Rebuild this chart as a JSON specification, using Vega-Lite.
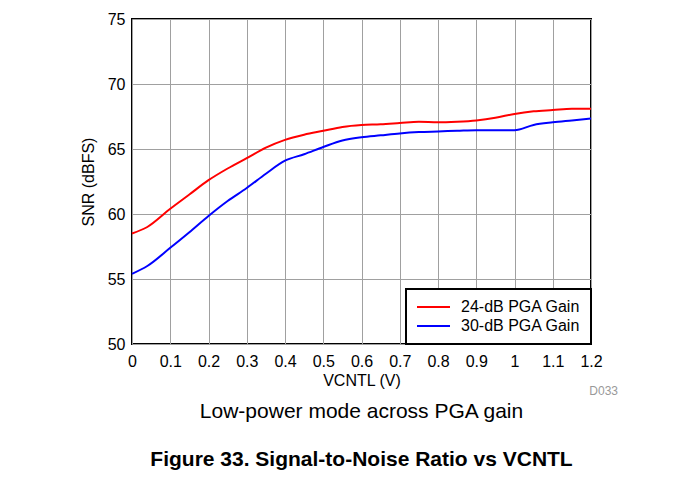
{
  "$schema": "https://vega.github.io/schema/vega-lite/v6.json",
  "width": 459,
  "height": 325,
  "autosize": "none",
  "padding": {"left": 132, "top": 19, "right": 90, "bottom": 134},
  "background": "white",
  "config": {
    "font": "Liberation Sans",
    "view": {"stroke": "#000", "strokeWidth": 2},
    "axis": {
      "labelFont": "Liberation Sans", "labelFontSize": 16, "labelColor": "#000",
      "titleFont": "Liberation Sans", "titleFontSize": 16, "titleColor": "#000", "titleFontWeight": "normal",
      "grid": true, "gridColor": "#a0a0a0", "gridWidth": 1,
      "domain": false, "ticks": false, "labelOverlap": false
    }
  },
  "title": {
    "text": "Low-power mode across PGA gain",
    "subtitle": "Figure 33. Signal-to-Noise Ratio vs VCNTL",
    "orient": "bottom", "anchor": "middle", "frame": "group",
    "font": "Liberation Sans", "fontSize": 21, "fontWeight": "normal", "color": "#000",
    "subtitleFont": "Liberation Sans", "subtitleFontSize": 21, "subtitleFontWeight": "bold", "subtitleColor": "#000",
    "subtitlePadding": 27, "offset": 4
  },
  "datasets": {
    "curves": [
      {"v": 0, "snr": 58.5, "series": "24-dB PGA Gain"},
      {"v": 0.04, "snr": 59.0, "series": "24-dB PGA Gain"},
      {"v": 0.1, "snr": 60.4, "series": "24-dB PGA Gain"},
      {"v": 0.15, "snr": 61.5, "series": "24-dB PGA Gain"},
      {"v": 0.2, "snr": 62.6, "series": "24-dB PGA Gain"},
      {"v": 0.25, "snr": 63.5, "series": "24-dB PGA Gain"},
      {"v": 0.3, "snr": 64.3, "series": "24-dB PGA Gain"},
      {"v": 0.35, "snr": 65.1, "series": "24-dB PGA Gain"},
      {"v": 0.4, "snr": 65.7, "series": "24-dB PGA Gain"},
      {"v": 0.45, "snr": 66.1, "series": "24-dB PGA Gain"},
      {"v": 0.5, "snr": 66.4, "series": "24-dB PGA Gain"},
      {"v": 0.55, "snr": 66.7, "series": "24-dB PGA Gain"},
      {"v": 0.6, "snr": 66.85, "series": "24-dB PGA Gain"},
      {"v": 0.65, "snr": 66.9, "series": "24-dB PGA Gain"},
      {"v": 0.7, "snr": 67.0, "series": "24-dB PGA Gain"},
      {"v": 0.75, "snr": 67.1, "series": "24-dB PGA Gain"},
      {"v": 0.8, "snr": 67.05, "series": "24-dB PGA Gain"},
      {"v": 0.85, "snr": 67.1, "series": "24-dB PGA Gain"},
      {"v": 0.9, "snr": 67.2, "series": "24-dB PGA Gain"},
      {"v": 0.95, "snr": 67.4, "series": "24-dB PGA Gain"},
      {"v": 1.0, "snr": 67.7, "series": "24-dB PGA Gain"},
      {"v": 1.05, "snr": 67.9, "series": "24-dB PGA Gain"},
      {"v": 1.1, "snr": 68.0, "series": "24-dB PGA Gain"},
      {"v": 1.15, "snr": 68.1, "series": "24-dB PGA Gain"},
      {"v": 1.2, "snr": 68.1, "series": "24-dB PGA Gain"},
      {"v": 0, "snr": 55.4, "series": "30-dB PGA Gain"},
      {"v": 0.04, "snr": 56.0, "series": "30-dB PGA Gain"},
      {"v": 0.1, "snr": 57.4, "series": "30-dB PGA Gain"},
      {"v": 0.15, "snr": 58.6, "series": "30-dB PGA Gain"},
      {"v": 0.2, "snr": 59.85, "series": "30-dB PGA Gain"},
      {"v": 0.25, "snr": 61.0, "series": "30-dB PGA Gain"},
      {"v": 0.3, "snr": 62.0, "series": "30-dB PGA Gain"},
      {"v": 0.35, "snr": 63.1, "series": "30-dB PGA Gain"},
      {"v": 0.4, "snr": 64.1, "series": "30-dB PGA Gain"},
      {"v": 0.45, "snr": 64.6, "series": "30-dB PGA Gain"},
      {"v": 0.5, "snr": 65.15, "series": "30-dB PGA Gain"},
      {"v": 0.55, "snr": 65.65, "series": "30-dB PGA Gain"},
      {"v": 0.6, "snr": 65.9, "series": "30-dB PGA Gain"},
      {"v": 0.65, "snr": 66.05, "series": "30-dB PGA Gain"},
      {"v": 0.7, "snr": 66.2, "series": "30-dB PGA Gain"},
      {"v": 0.75, "snr": 66.3, "series": "30-dB PGA Gain"},
      {"v": 0.8, "snr": 66.35, "series": "30-dB PGA Gain"},
      {"v": 0.85, "snr": 66.4, "series": "30-dB PGA Gain"},
      {"v": 0.9, "snr": 66.45, "series": "30-dB PGA Gain"},
      {"v": 0.95, "snr": 66.45, "series": "30-dB PGA Gain"},
      {"v": 1.0, "snr": 66.45, "series": "30-dB PGA Gain"},
      {"v": 1.05, "snr": 66.85, "series": "30-dB PGA Gain"},
      {"v": 1.1, "snr": 67.05, "series": "30-dB PGA Gain"},
      {"v": 1.15, "snr": 67.2, "series": "30-dB PGA Gain"},
      {"v": 1.2, "snr": 67.35, "series": "30-dB PGA Gain"}
    ],
    "note": [
      {"v": 1.2, "snr": 50, "label": "D033"}
    ]
  },
  "layer": [
    {
      "data": {"name": "curves"},
      "mark": {"type": "line", "strokeWidth": 2, "interpolate": "monotone"},
      "encoding": {
        "x": {"field": "v", "type": "quantitative", "title": "VCNTL (V)",
          "scale": {"domain": [0, 1.2], "nice": false, "zero": false},
          "axis": {"values": [0, 0.1, 0.2, 0.3, 0.4, 0.5, 0.6, 0.7, 0.8, 0.9, 1, 1.1, 1.2], "format": "~g", "labelPadding": 9, "titlePadding": 3, "labelFlush": false, "labelOverlap": false}},
        "y": {"field": "snr", "type": "quantitative", "title": "SNR (dBFS)",
          "scale": {"domain": [50, 75], "nice": false, "zero": false},
          "axis": {"values": [50, 55, 60, 65, 70, 75], "labelPadding": 7, "titlePadding": 11}},
        "color": {"field": "series", "type": "nominal",
          "scale": {"domain": ["24-dB PGA Gain", "30-dB PGA Gain"], "range": ["#ff0000", "#0000ff"]},
          "legend": {"title": null, "orient": "bottom-right", "offset": 0,
            "symbolType": "M-1.4,0H5.2", "symbolSize": 100, "symbolStrokeWidth": 2,
            "labelFont": "Liberation Sans", "labelFontSize": 16, "labelColor": "#000",
            "labelOffset": 29, "rowPadding": 3, "padding": 10,
            "strokeColor": "#000", "fillColor": "#fff",
            "encode": {"legend": {"update": {"strokeWidth": {"value": 2}}}}}}
      }
    },
    {
      "data": {"name": "note"},
      "mark": {"type": "text", "fontSize": 12, "fontWeight": "normal", "color": "#999", "align": "right", "baseline": "middle", "dy": 47, "dx": 27, "font": "Liberation Sans"},
      "encoding": {
        "text": {"field": "label", "type": "nominal"},
        "x": {"field": "v", "type": "quantitative", "title": "VCNTL (V)",
          "axis": {"values": [0, 0.1, 0.2, 0.3, 0.4, 0.5, 0.6, 0.7, 0.8, 0.9, 1, 1.1, 1.2], "format": "~g", "labelPadding": 9, "titlePadding": 3, "labelFlush": false, "labelOverlap": false}},
        "y": {"field": "snr", "type": "quantitative", "title": "SNR (dBFS)",
          "axis": {"values": [50, 55, 60, 65, 70, 75], "labelPadding": 7, "titlePadding": 11}}
      }
    }
  ]
}
